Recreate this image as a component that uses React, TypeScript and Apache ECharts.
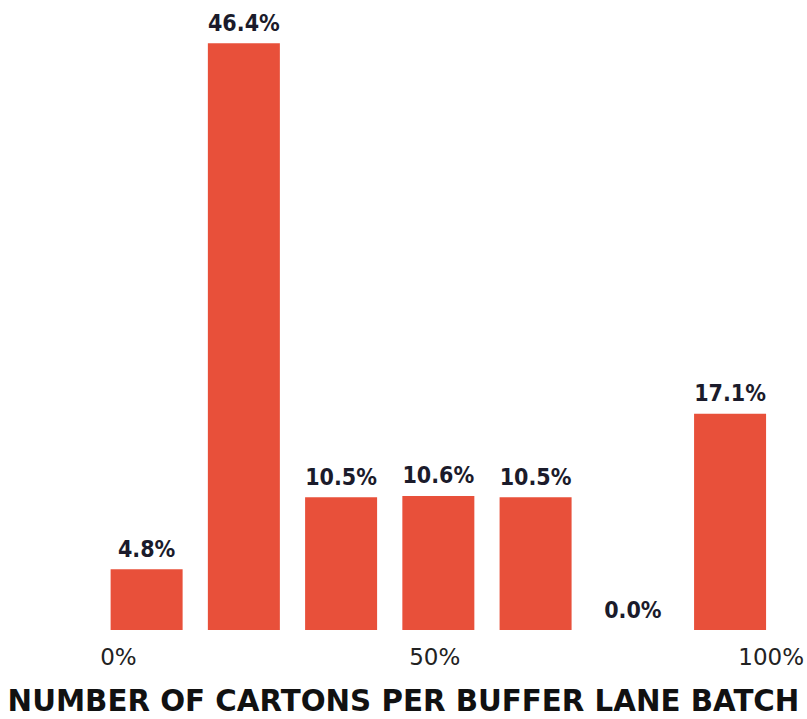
import React, { useEffect, useRef } from "react";
import * as echarts from "echarts";

const categories = ["1", "2", "3", "4", "5", "6", "7"];
const values = [4.8, 46.4, 10.5, 10.6, 10.5, 0.0, 17.1];
const tickValues = [0, 50, 100];
const titleText = "NUMBER OF CARTONS PER BUFFER LANE BATCH";

export default function App() {
  const ref = useRef<HTMLDivElement>(null);
  useEffect(() => {
    if (!ref.current) return;
    const chart = echarts.init(ref.current, null, { renderer: "svg" });
    chart.setOption({
      animation: false,
      backgroundColor: "#ffffff",
      title: {
        text: titleText,
        left: "center",
        top: 681,
        textStyle: {
          fontFamily: "DejaVu Sans",
          fontWeight: "bold",
          fontSize: 29.3,
          color: "#111111",
        },
      },
      grid: { left: 98, width: 681, top: 23, height: 607 },
      xAxis: [
        {
          type: "category",
          data: categories,
          axisLine: { show: false },
          axisTick: { show: false },
          axisLabel: { show: false },
        },
        {
          type: "value",
          min: -3.13,
          max: 101.16,
          position: "bottom",
          axisLine: { show: false },
          axisTick: { show: false },
          splitLine: { show: false },
          axisLabel: {
            customValues: tickValues,
            margin: 15,
            fontFamily: "DejaVu Sans",
            fontSize: 23,
            color: "#222222",
            formatter: (v: number) => (v === 50 ? "{s|" + v + "%}" : "{n|" + v + "%}"),
            rich: {
              n: {
                fontFamily: "DejaVu Sans",
                fontSize: 23,
                color: "#222222",
              },
              s: {
                fontFamily: "DejaVu Sans",
                fontSize: 23,
                color: "#222222",
                padding: [0, 20, 0, 0],
              },
            },
          },
        },
      ],
      yAxis: {
        type: "value",
        min: 0,
        max: 48,
        show: false,
        splitLine: { show: false },
      },
      series: [
        {
          type: "bar",
          data: values,
          xAxisIndex: 0,
          barWidth: 72,
          itemStyle: { color: "#E8503A" },
          label: {
            show: true,
            position: "top",
            distance: 9,
            formatter: (p: any) => Number(p.value).toFixed(1) + "%",
            fontFamily: "DejaVu Sans Condensed",
            fontWeight: "bold",
            fontSize: 23,
            color: "#1b1b2b",
          },
        },
      ],
    });
    return () => chart.dispose();
  }, []);
  return <div ref={ref} style={{ width: 807, height: 719, position: "absolute", left: 0, top: 0 }} />;
}
